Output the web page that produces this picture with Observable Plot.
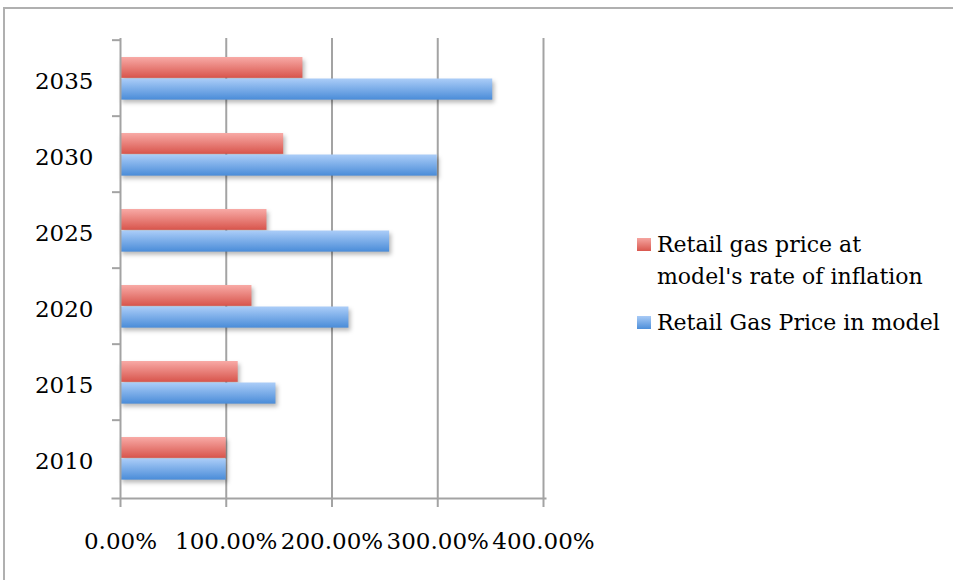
<!DOCTYPE html>
<html>
<head>
<meta charset="utf-8">
<script src="https://cdn.jsdelivr.net/npm/d3@7"></script>
<script src="https://cdn.jsdelivr.net/npm/@observablehq/plot@0.6"></script>
<style>
  html, body { margin: 0; padding: 0; background: #fff; }
  #wrap { position: relative; width: 953px; height: 580px; overflow: hidden; font-family: "DejaVu Serif", serif; }
  #border { position: absolute; left: 3px; top: 7px; width: 960px; height: 600px; border-top: 2px solid #b0b0b0; border-left: 2px solid #b0b0b0; pointer-events: none; }
  #legend { position: absolute; left: 636px; top: 229px; font-size: 22px; color: #000; line-height: 32px; }
  .item { position: relative; padding-left: 21px; }
  .sw { position: absolute; left: 1px; top: 9px; width: 14px; height: 13px; }
</style>
</head>
<body>
<div id="wrap">
  <div id="border"></div>
  <div id="chart"></div>
  <div id="legend"></div>
</div>
<script>
const years = ["2010", "2015", "2020", "2025", "2030", "2035"];
const inflationSeries = [100, 111.3, 124.3, 138.5, 154.3, 172.5];
const modelSeries = [100, 147, 216, 254.5, 299.6, 352];
const xTicks = [0, 100, 200, 300, 400];
const seriesNames = ["Retail gas price at model's rate of inflation", "Retail Gas Price in model"];

const inflationData = years.map((y, i) => ({year: y, value: inflationSeries[i]}));
const modelData = years.map((y, i) => ({year: y, value: modelSeries[i]}));

const gridColor = "#a3a3a3";
const band = (580 - 38 - 82) / years.length;

const svg = Plot.plot({
  width: 953,
  height: 580,
  marginTop: 38,
  marginLeft: 120,
  marginRight: 410,
  marginBottom: 82,
  style: {fontFamily: "DejaVu Serif, serif", fontSize: "23px", color: "#000", background: "transparent"},
  x: {domain: [0, 400], ticks: xTicks},
  y: {domain: years.slice().reverse(), padding: 0},
  marks: [
    Plot.ruleX(xTicks.slice(1), {stroke: gridColor, strokeWidth: 2}),
    Plot.barX(inflationData, {x: "value", y: "year", fill: "url(#gRed)", insetTop: 17, insetBottom: band - 38.5}),
    Plot.barX(modelData, {x: "value", y: "year", fill: "url(#gBlue)", insetTop: 38.5, insetBottom: band - 60.3}),
    Plot.ruleX([0], {stroke: gridColor, strokeWidth: 2}),
    Plot.frame({anchor: "bottom", stroke: gridColor, strokeWidth: 2, insetLeft: -8, insetRight: -2}),
    Plot.axisX({ticks: xTicks, tickSize: 9, tickPadding: 25, stroke: gridColor, strokeWidth: 2, strokeOpacity: 1, tickFormat: d => d.toFixed(2) + "%", label: null, fontSize: 23}),
    Plot.axisY({tickSize: 8, dy: -band / 2, text: null, stroke: gridColor, strokeWidth: 2, strokeOpacity: 1, label: null}),
    Plot.axisY({tickSize: 0, tickPadding: 27, dy: 3, label: null, fontSize: 23})
  ]
});

const defs = d3.select(svg).insert("defs", ":first-child");
function grad(id, top, bottom) {
  const g = defs.append("linearGradient").attr("id", id).attr("x1", 0).attr("y1", 0).attr("x2", 0).attr("y2", 1);
  g.append("stop").attr("offset", "0%").attr("stop-color", top);
  g.append("stop").attr("offset", "100%").attr("stop-color", bottom);
}
grad("gRed", "#f8aaa6", "#d8554c");
grad("gBlue", "#abcdf8", "#4a8cd8");
d3.select(svg).selectAll('g[aria-label="bar"]').style("filter", "drop-shadow(2px 3px 2px rgba(0,0,0,0.28))");

document.getElementById("chart").appendChild(svg);

const legend = document.getElementById("legend");
seriesNames.forEach((name, i) => {
  const div = document.createElement("div");
  div.className = "item";
  div.style.marginBottom = i === 0 ? "14px" : "0";
  const sw = document.createElement("span");
  sw.className = "sw";
  sw.style.background = `linear-gradient(${i === 0 ? "#f5a5a0, #d9574e" : "#a9cbf6, #4d8fda"})`;
  div.appendChild(sw);
  const t = document.createElement("span");
  t.innerHTML = i === 0 ? "Retail gas price at<br>model's rate of inflation" : name;
  div.appendChild(t);
  legend.appendChild(div);
});
</script>
</body>
</html>
